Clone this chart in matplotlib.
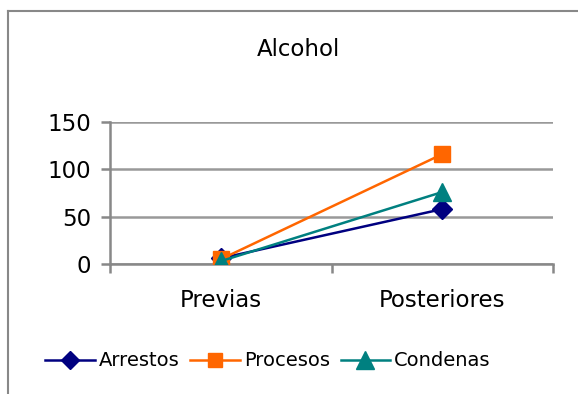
import matplotlib
matplotlib.use("Agg")
import matplotlib.pyplot as plt
from matplotlib.lines import Line2D

categories = ["Previas", "Posteriores"]
arrestos = [6, 58]
procesos = [5, 116]
condenas = [3, 76]
yticks = [0, 50, 100, 150]

plt.rcParams['font.family'] = ['DejaVu Sans']
FS = 16.5
LFS = 14
W, H = 578, 394
fig = plt.figure(figsize=(W/100, H/100), dpi=100)
ax = fig.add_axes([110/W, 1-264/H, (553-110)/W, (264-122)/H])

x = [0.5, 1.5]
ax.plot(x, arrestos, color="#000080", marker="D", markersize=10, lw=1.8, label="Arrestos", zorder=3)
ax.plot(x, procesos, color="#FF6600", marker="s", markersize=11, lw=1.8, label="Procesos", zorder=3)
ax.plot(x, condenas, color="#008080", marker="^", markersize=13, lw=1.8, label="Condenas", zorder=4)

ax.set_xlim(0, 2)
ax.set_ylim(0, 150)
ax.set_yticks(yticks)
ax.set_yticklabels([str(v) for v in yticks], fontsize=FS)
ax.set_xticks([0, 1, 2])
ax.set_xticklabels([])
ax.set_xticks(x, minor=True)
ax.set_xticklabels(categories, minor=True, fontsize=FS)
ax.tick_params(axis='x', which='minor', length=0, pad=18)
ax.tick_params(axis='x', which='major', length=6.5, color="#888888", width=1.8)
ax.tick_params(axis='y', length=6.5, color="#888888", width=1.8, pad=7)
ax.grid(axis='y', color="#999999", lw=1.8)
ax.set_axisbelow(True)
for s in ["top", "right"]:
    ax.spines[s].set_visible(False)
for s in ["left", "bottom"]:
    ax.spines[s].set_color("#888888")
    ax.spines[s].set_linewidth(1.8)

fig.text(298/W, 1-50/H, "Alcohol", ha="center", va="center", fontsize=FS)

handles, labels = ax.get_legend_handles_labels()
fig.legend(handles, labels, loc="center", bbox_to_anchor=(268/W, 1-361/H), ncol=3,
           frameon=False, fontsize=LFS, handlelength=2.55, handletextpad=0.2,
           columnspacing=0.55, markerscale=0.95)

# outer frame (left and top visible)
fig.add_artist(Line2D([8/W, 8/W], [0, 1-11/H], transform=fig.transFigure, color="#888888", lw=1.5))
fig.add_artist(Line2D([8/W, 1.01], [1-11/H, 1-11/H], transform=fig.transFigure, color="#888888", lw=1.5))

fig.savefig("out.png", dpi=100)
